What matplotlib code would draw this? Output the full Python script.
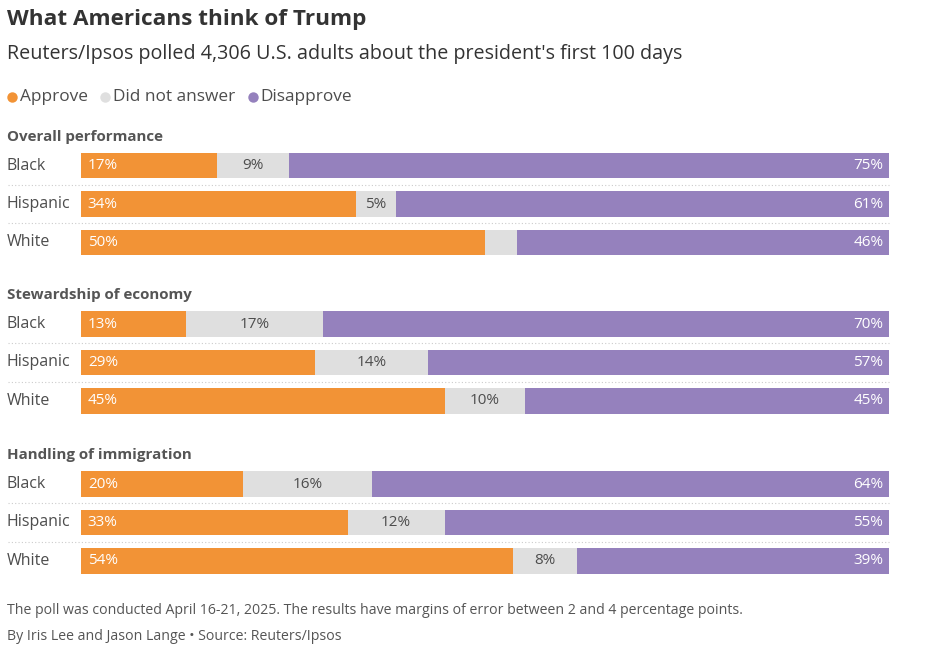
import matplotlib.pyplot as plt
from matplotlib.lines import Line2D
import numpy as np

# Datos de la encuesta
grupos = ['Overall performance', 'Stewardship of economy', 'Handling of immigration']
filas = ['Black', 'Hispanic', 'White']

aprueba = [[17, 34, 50], [13, 29, 45], [20, 33, 54]]
no_responde = [[9, 5, 4], [17, 14, 10], [16, 12, 8]]
desaprueba = [[75, 61, 46], [70, 57, 45], [64, 55, 39]]
# etiquetas de "no responde" (la de 4% no aparece en el original)
etiq_nr = [['9%', '5%', ''], ['17%', '14%', '10%'], ['16%', '12%', '8%']]

NARANJA = '#F29336'
GRIS = '#DFDFDF'
MORADO = '#9581BD'
TEXTO = '#4d4d4d'

plt.rcParams['font.family'] = ['Open Sans', 'DejaVu Sans']

W, H = 929, 666
fig = plt.figure(figsize=(W / 100, H / 100), dpi=100)


def fx(px):
    return px / W


def fy(py):
    return 1 - py / H


# titulo y subtitulo
fig.text(fx(7), fy(20), 'What Americans think of Trump', fontsize=16.2, fontweight='bold',
         color='#333333', va='center')
fig.text(fx(7), fy(54), "Reuters/Ipsos polled 4,306 U.S. adults about the president's first 100 days",
         fontsize=14.2, color='#333333', va='center')

# leyenda
x = 8
for nombre, col in [('Approve', NARANJA), ('Did not answer', GRIS), ('Disapprove', MORADO)]:
    fig.add_artist(Line2D([fx(x + 4.5)], [fy(96.5)], marker='o', markersize=7.5, color=col,
                          markeredgewidth=0, transform=fig.transFigure))
    t = fig.text(fx(x + 12), fy(97), nombre, fontsize=12.4, color=TEXTO, va='center')
    fig.canvas.draw()
    ancho = t.get_window_extent().width
    x = x + 12 + ancho + 13

# paneles
centros = [165.5, 324, 484]
paso = 38.5
izq, der = 81, 889
for g in range(3):
    top = centros[g] - paso / 2
    bottom = centros[g] + 2 * paso + paso / 2
    ax = fig.add_axes([fx(izq), fy(bottom), fx(der) - fx(izq), (bottom - top) / H])
    ap = np.array(aprueba[g], dtype=float)
    nr = np.array(no_responde[g], dtype=float)
    de = np.array(desaprueba[g], dtype=float)
    tot = ap + nr + de
    ap_n = ap / tot * 100
    nr_n = nr / tot * 100
    de_n = de / tot * 100
    y = np.arange(3)
    ax.barh(y, ap_n, height=0.65, color=NARANJA)
    ax.barh(y, nr_n, left=ap_n, height=0.65, color=GRIS)
    ax.barh(y, de_n, left=ap_n + nr_n, height=0.65, color=MORADO)
    ax.set_xlim(0, 100)
    ax.set_ylim(2.5, -0.5)
    ax.axis('off')

    for i in range(3):
        ax.text(0.85, i, f'{aprueba[g][i]}%', color='white', fontsize=11, va='center', ha='left')
        ax.text(ap_n[i] + nr_n[i] / 2, i, etiq_nr[g][i], color=TEXTO, fontsize=11,
                va='center', ha='center')
        ax.text(99.3, i, f'{desaprueba[g][i]}%', color='white', fontsize=11,
                va='center', ha='right')
        ax.text(-(izq - 7) / (der - izq), i, filas[i], transform=ax.get_yaxis_transform(),
                color=TEXTO, fontsize=11.5, va='center', ha='left')
    for s in [0.5, 1.5]:
        ax.plot([-(izq - 8) / (der - izq), 1], [s, s], transform=ax.get_yaxis_transform(),
                color='#cccccc', lw=0.8, linestyle=(0, (1, 2)), clip_on=False)

    fig.text(fx(7), fy(centros[g] - 29), grupos[g], fontsize=10.9, fontweight='bold',
             color='#555555', va='center')

# pie
fig.text(fx(7), fy(610), 'The poll was conducted April 16-21, 2025. The results have margins of error '
         'between 2 and 4 percentage points.', fontsize=10.2, color='#555555', va='center')
fig.text(fx(7), fy(636), 'By Iris Lee and Jason Lange \u2022 Source: Reuters/Ipsos',
         fontsize=10.2, color='#555555', va='center')

fig.savefig('out.png', dpi=100, facecolor='white')
